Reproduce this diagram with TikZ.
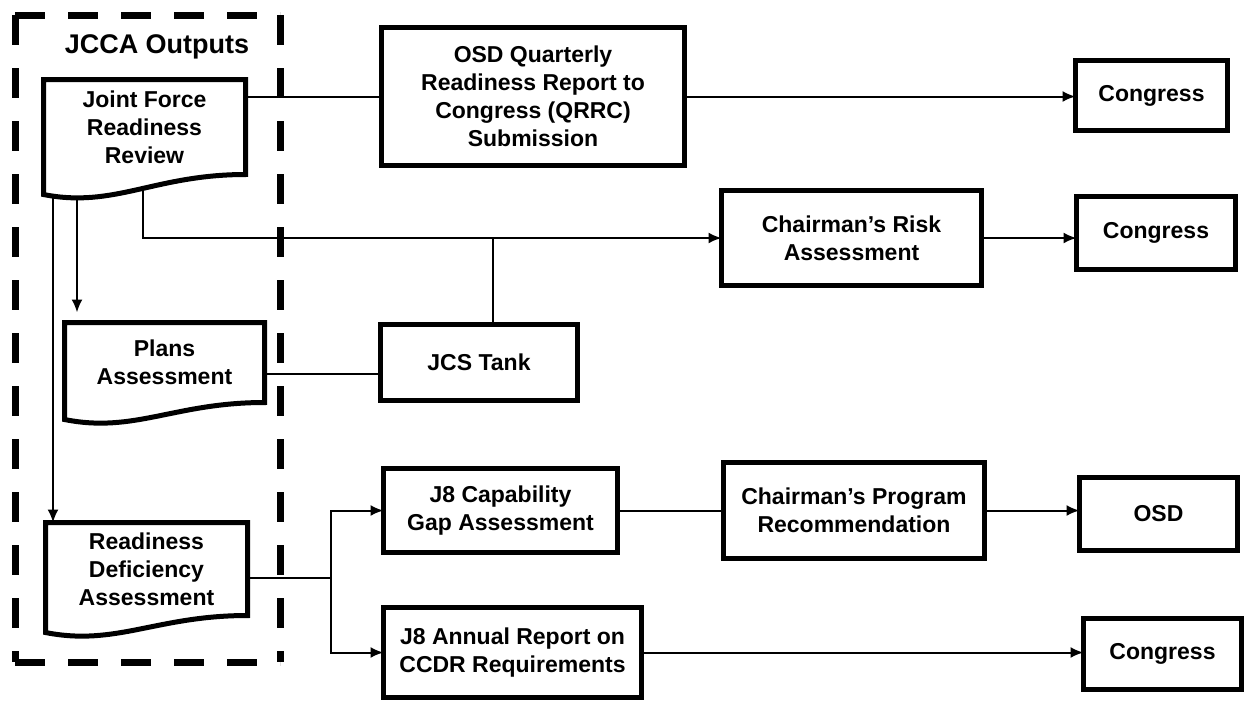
\documentclass[tikz,border=0pt]{standalone}
\usepackage{fontspec}
\setmainfont{Liberation Sans}
\usetikzlibrary{arrows.meta,calc,backgrounds}
\newcommand\boxfont{\fontsize{23}{28}\selectfont\bfseries}
\newcommand\docpath[2]{%
  \path[docline] (#1.north west) -- (#1.north east) -- (#1.south east)
    .. controls ($(#1.south west)!0.55!(#1.south east)$) and ($(#1.south west)!0.35!(#1.south east)+(0,#2+14)$)
    .. ($(#1.south west)+(0,#2)$) -- cycle;}
\tikzset{
  box/.style={draw, line width=5pt, fill=white, align=center, font=\boxfont, inner sep=2pt, outer sep=0pt},
  doc/.style={align=center, font=\boxfont, inner sep=0pt, outer sep=0pt},
  docline/.style={draw, line width=5pt, fill=white, line join=miter},
  sz/.style 2 args={minimum width=#1pt, minimum height=#2pt},
  conn/.style={line width=2pt},
  arr/.style={conn, -{Latex[length=13pt,width=11pt]}},
  frame/.style={line width=7pt, dash pattern=on 30pt off 23pt},
}
\begin{document}
\begin{tikzpicture}[x=1pt,y=-1pt]
\useasboundingbox (0,0) rectangle (1246,707);

% dashed frame and title
\draw[frame] (15,15) -- (280,15);
\draw[frame] (280,15) -- (280,662);
\draw[frame] (15,662) -- (280,662);
\draw[frame] (15,15) -- (15,662);
\node[font=\fontsize{27}{32}\selectfont\bfseries, inner sep=0pt] (title) at (157,47) {JCCA Outputs};

% document nodes (text only; outlines drawn on background)
\node[doc, sz={202}{95}] (jfrr) at (144.5,127) {Joint Force\\Readiness\\Review};
\node[doc, sz={200}{80}] (plans) at (164.5,362.5) {Plans\\Assessment};
\node[doc, sz={202}{93}] (rda) at (146.5,569) {Readiness\\Deficiency\\Assessment};

% boxes
\node[box, sz={303}{138}] (qrrc) at (533,96.5) {OSD Quarterly\\Readiness Report to\\Congress (QRRC)\\Submission};
\node[box, sz={152}{70}] (cong1) at (1151.5,95.5) {Congress};
\node[box, sz={260}{95}] (cra) at (851.5,238) {Chairman’s Risk\\Assessment};
\node[box, sz={159}{73}] (cong2) at (1156,233) {Congress};
\node[box, sz={197}{76}] (jcs) at (479,362.5) {JCS Tank};
\node[box, sz={234}{84}] (j8cap) at (500.5,510.5) {J8 Capability\\Gap Assessment};
\node[box, sz={261}{96}] (cpr) at (854,510.5) {Chairman’s Program\\Recommendation};
\node[box, sz={158}{73}] (osd) at (1158.5,514) {OSD};
\node[box, sz={258}{90}] (j8ann) at (512.5,652.5) {J8 Annual Report on\\CCDR Requirements};
\node[box, sz={158}{71}] (cong3) at (1162.5,654) {Congress};

\begin{scope}[on background layer]
  \fill[white] (0,0) rectangle (1246,707);
  \coordinate (ja) at ($(jfrr.south west)+(9.5,0)$);
  \coordinate (jb) at ($(jfrr.south west)+(33.5,0)$);
  \coordinate (jc) at ($(jfrr.south west)+(99.5,0)$);
  \coordinate (jt) at ($(jcs.north)+(14,0)$);
  \coordinate (pe) at ($(plans.east)+(0,11.5)$);
  \coordinate (re) at ($(rda.east)+(0,9)$);
  \coordinate (br) at ($(rda.east)+(83.5,9)$);

  \draw[conn] (jfrr.east |- qrrc.west) -- (qrrc.west);
  \draw[arr] (qrrc.east) -- (qrrc.east -| cong1.west);
  \draw[arr] (jc) |- (cra.west);
  \draw[conn] (jt) -- (jt |- cra.west);
  \draw[arr] (cra.east) -- (cra.east -| cong2.west);
  \draw[conn] (pe) -- (pe -| jcs.west);
  \draw[arr] (ja) -- (ja |- rda.north);
  \draw[arr, shorten >=10pt] (jb) -- (jb |- plans.north);
  \draw[conn] (re) -- (br);
  \draw[arr] (br) |- (j8cap.west);
  \draw[arr] (br) |- (j8ann.west);
  \draw[conn] (j8cap.east) -- (j8cap.east -| cpr.west);
  \draw[arr] (cpr.east) -- (cpr.east -| osd.west);
  \draw[arr] (j8ann.east) -- (j8ann.east -| cong3.west);

  \docpath{jfrr}{20}
  \docpath{plans}{17}
  \docpath{rda}{17}
\end{scope}
\end{tikzpicture}
\end{document}
